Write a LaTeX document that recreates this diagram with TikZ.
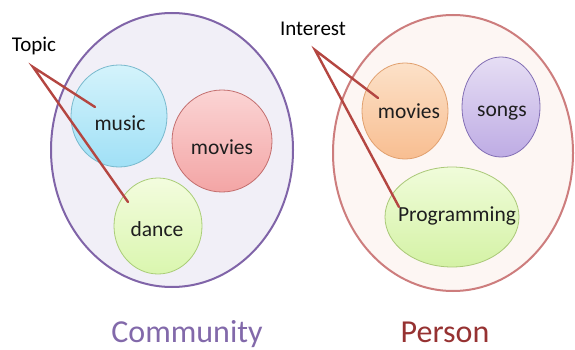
\documentclass[tikz,border=0pt]{standalone}
\usepackage{fontspec}
\setmainfont{Carlito}
\usetikzlibrary{shapes.geometric}
\definecolor{linkred}{RGB}{180,70,65}
\definecolor{compurple}{RGB}{128,100,168}
\definecolor{comfill}{RGB}{241,239,247}
\definecolor{perred}{RGB}{205,125,125}
\definecolor{perfill}{RGB}{253,246,243}
\definecolor{comtext}{RGB}{130,105,170}
\definecolor{pertext}{RGB}{150,50,50}
\definecolor{ink}{RGB}{30,30,30}
\tikzset{
  x=1pt, y=-1pt,
  blob/.style={ellipse, line width=0.8pt, inner sep=0pt},
  lbl/.style={anchor=base, text=ink, inner sep=0pt, font=\fontsize{21.5}{25}\selectfont},
  tag/.style={anchor=base, text=black, inner sep=0pt, font=\fontsize{21}{25}\selectfont},
  title/.style={anchor=base, inner sep=0pt, font=\fontsize{32}{38}\selectfont},
  link/.style={draw=linkred, line width=2.4pt, line cap=round}
}
\begin{document}
\begin{tikzpicture}
\useasboundingbox (0,0) rectangle (575,350);
% big sets
\node[ellipse, draw=compurple, fill=comfill, line width=2pt, minimum width=242pt, minimum height=274pt, inner sep=0pt] (community) at (172,150) {};
\node[ellipse, draw=perred, fill=perfill, line width=2pt, minimum width=240pt, minimum height=276pt, inner sep=0pt] (person) at (453,153) {};
% community members
\node[blob, draw={rgb,255:red,120;green,185;blue,205}, top color={rgb,255:red,212;green,243;blue,251}, bottom color={rgb,255:red,160;green,224;blue,246}, minimum width=96pt, minimum height=102pt] (musicC) at (119,116) {};
\node[blob, draw={rgb,255:red,195;green,110;blue,110}, top color={rgb,255:red,251;green,212;blue,212}, bottom color={rgb,255:red,243;green,165;blue,165}, minimum width=100pt, minimum height=102pt] (moviesC) at (222,141) {};
\node[blob, draw={rgb,255:red,170;green,205;blue,120}, top color={rgb,255:red,243;green,252;blue,222}, bottom color={rgb,255:red,218;green,246;blue,175}, minimum width=88pt, minimum height=96pt] (danceC) at (158,226) {};
% person members
\node[blob, draw={rgb,255:red,225;green,160;blue,110}, top color={rgb,255:red,252;green,225;blue,200}, bottom color={rgb,255:red,248;green,190;blue,145}, minimum width=86pt, minimum height=96pt] (moviesP) at (405,111) {};
\node[blob, draw={rgb,255:red,130;green,110;blue,180}, top color={rgb,255:red,230;green,222;blue,244}, bottom color={rgb,255:red,190;green,172;blue,228}, minimum width=78pt, minimum height=100pt] (songsP) at (501,107) {};
\node[blob, draw={rgb,255:red,170;green,200;blue,120}, top color={rgb,255:red,240;green,252;blue,218}, bottom color={rgb,255:red,212;green,242;blue,165}, minimum width=134pt, minimum height=100pt] (progP) at (452,217) {};
% labels
\node[lbl] (music) at (120,130) {music};
\node[lbl] (moviesL) at (222,154) {movies};
\node[lbl] (dance) at (157,236) {dance};
\node[lbl] (moviesR) at (409,118) {movies};
\node[lbl] (songs) at (502,117) {songs};
\node[lbl] (prog) at (457,221) {Programming};
\node[tag] (topic) at (34,52) {Topic};
\node[tag] (interest) at (313,36) {Interest};
\node[title, text=comtext] (comtitle) at (187,342) {Community};
\node[title, text=pertext] (pertitle) at (445,342) {Person};
% connectors
\coordinate (t0) at (33,67);
\coordinate (t1) at (95,107);
\coordinate (t2) at (128,202);
\coordinate (i0) at (315,50);
\coordinate (i1) at (378,98);
\coordinate (i2) at (399,207);
\draw[link] (t1) -- (t0) -- (t2);
\draw[link] (i1) -- (i0) -- (i2);
\end{tikzpicture}
\end{document}
